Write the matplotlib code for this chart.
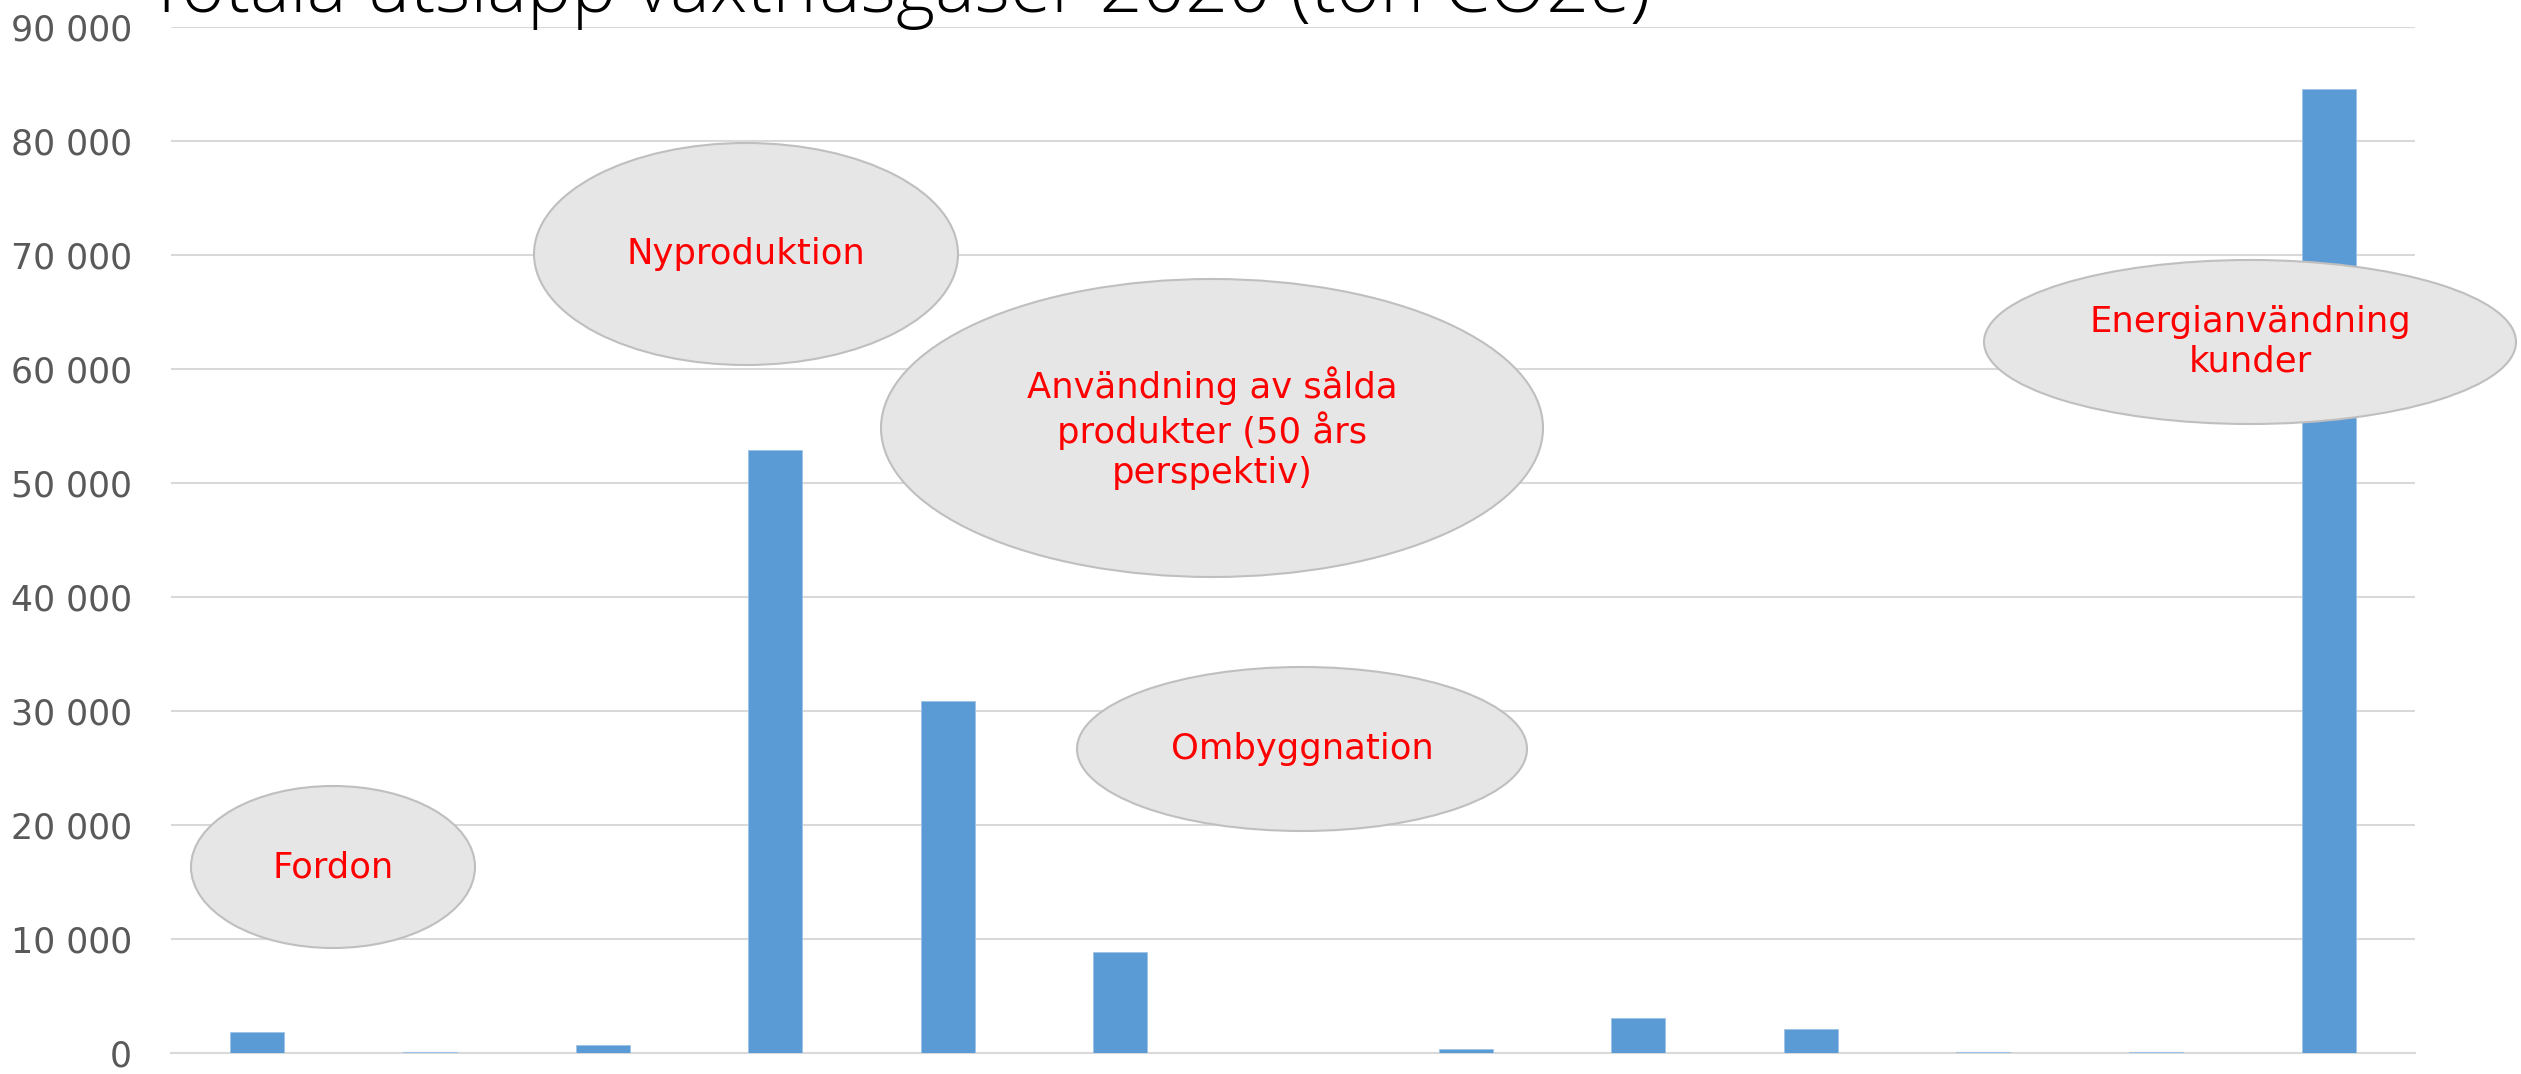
import numpy as np
import matplotlib
matplotlib.use('Agg')
import matplotlib.pyplot as plt
from matplotlib.patches import Ellipse
from matplotlib.ticker import FuncFormatter

# bar values, ton CO2e
values = [1840, 80, 700, 52900, 30880, 8860, 30, 350, 3070, 2100, 100, 80, 84560]
yticks = [0, 10000, 20000, 30000, 40000, 50000, 60000, 70000, 80000, 90000]
title = 'Totala utsläpp växthusgaser 2020 (ton CO2e)'

# callouts: label, centre x/y, width, height (figure pixels, from top-left)
callouts = [
    ('Fordon', 333, 867, 284, 162),
    ('Nyproduktion', 746, 254, 424, 222),
    ('Användning av sålda\nprodukter (50 års\nperspektiv)', 1212, 428, 662, 298),
    ('Ombyggnation', 1302, 749, 450, 164),
    ('Energianvändning\nkunder', 2250, 342, 532, 164),
]

W, H = 2521, 1074
fig = plt.figure(figsize=(W / 100, H / 100), dpi=100)
ax = fig.add_axes([171 / W, 21 / H, (2415 - 171) / W, (1053 - 27) / H])

x = np.arange(len(values))
ax.bar(x, values, width=0.313, color='#5B9BD5', edgecolor='#9DC3E6', linewidth=0.6, zorder=3)

ax.set_xlim(-0.5, len(values) - 0.5)
ax.set_ylim(0, 90000)
ax.set_yticks(yticks)
ax.yaxis.set_major_formatter(FuncFormatter(lambda v, p: f'{v:,.0f}'.replace(',', ' ')))
ax.set_xticks([])
ax.tick_params(axis='y', length=0, pad=28, labelsize=25, labelcolor='#595959')
ax.grid(axis='y', color='#D9D9D9', linewidth=1.5, zorder=0)
for s in ['top', 'right', 'left']:
    ax.spines[s].set_visible(False)
ax.spines['bottom'].set_color('#D9D9D9')
ax.spines['bottom'].set_linewidth(1.5)

# title, clipped at top like the original
fig.text(147 / W, 1 - 12 / H, title, fontsize=54, family=['Open Sans', 'DejaVu Sans'],
         fontweight='light', ha='left', va='baseline', color='black')

for label, cx, cy, w, h in callouts:
    e = Ellipse((cx / W, 1 - cy / H), w / W, h / H, transform=fig.transFigure,
                facecolor='#E7E6E6', edgecolor='#BFBFBF', linewidth=1.5, zorder=5)
    fig.add_artist(e)
    fig.text(cx / W, 1 - cy / H, label, color='#FF0000', fontsize=25.5, ha='center',
             va='center', multialignment='center', linespacing=1.2, zorder=6)

fig.savefig('out.png', dpi=100)
